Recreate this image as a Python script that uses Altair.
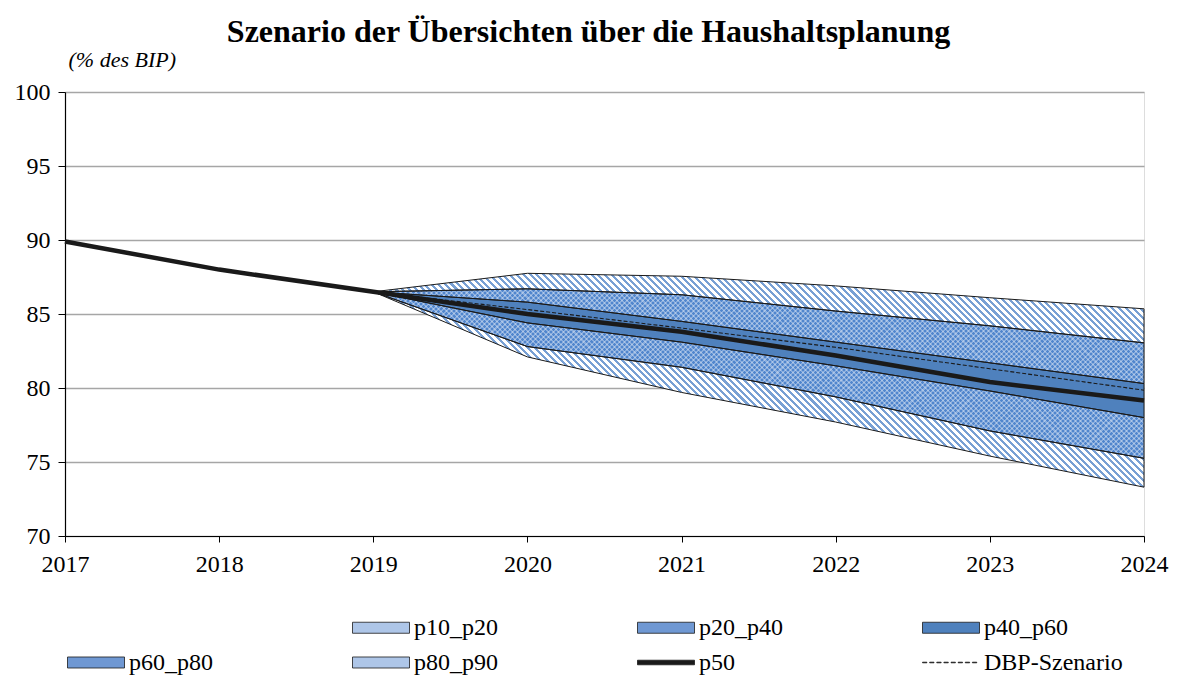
import math
import altair as alt
import pandas as pd

# ---------------- data ----------------
years = [2017, 2018, 2019, 2020, 2021, 2022, 2023, 2024]
p50 = [89.9, 88.0, 86.5, 85.0, 83.8, 82.2, 80.4, 79.15]
dbp = [None, None, 86.5, 85.3, 84.05, 82.75, 81.3, 79.85]

band_years = [2019, 2020, 2021, 2022, 2023, 2024]
p10 = [86.5, 82.1, 79.7, 77.7, 75.4, 73.3]
p20 = [86.5, 82.8, 81.4, 79.4, 77.1, 75.25]
p40 = [86.5, 84.4, 83.1, 81.5, 79.8, 78.0]
p60 = [86.5, 85.8, 84.5, 83.1, 81.7, 80.3]
p80 = [86.5, 86.7, 86.3, 85.2, 84.2, 83.05]
p90 = [86.5, 87.75, 87.55, 86.9, 86.1, 85.35]

bands = ["p10_p20", "p20_p40", "p40_p60", "p60_p80", "p80_p90"]
band_lo = [p10, p20, p40, p60, p80]
band_hi = [p20, p40, p60, p80, p90]

legend_names = [" ", "p10_p20", "p20_p40", "p40_p60", "p60_p80", "p80_p90", "p50", "DBP-Szenario"]
x_ticks = years
y_ticks = [70, 75, 80, 85, 90, 95, 100]

# ---------------- style ----------------
FONT = "Liberation Serif"
W, H = 1079, 444
X_DOM = [2017, 2024]
Y_DOM = [70, 100]
HATCH_BLUE = "#78a0d4"
CROSS_BASE = "#5186cd"
SOLID_BLUE = "#4f81bd"
WHITE_A = "rgba(255,255,255,0.32)"
CLEAR = "rgba(255,255,255,0)"


def stripes(lo, hi, period, c_on, c_off, frac, down=True):
    """Linear gradient that looks like diagonal hatching over a band's bbox."""
    pxw = W * (band_years[-1] - band_years[0]) / (X_DOM[1] - X_DOM[0])
    pxh = (max(hi) - min(lo)) * H / (Y_DOM[1] - Y_DOM[0])
    r = pxh / pxw
    t = (1 + r) / (1 + r * r)
    n = int(round((pxw + pxh) / (math.sqrt(2) * period)))
    stops = []
    for k in range(n):
        a, b, c = k / n, (k + frac) / n, (k + 1) / n
        stops += [
            alt.GradientStop(offset=a, color=c_on),
            alt.GradientStop(offset=b, color=c_on),
            alt.GradientStop(offset=b, color=c_off),
            alt.GradientStop(offset=min(c, 1.0), color=c_off),
        ]
    if down:   # stripes run "\"
        return alt.LinearGradient(gradient="linear", stops=stops,
                                  x1=0, y1=1, x2=t, y2=1 - t * r)
    return alt.LinearGradient(gradient="linear", stops=stops,   # stripes run "/"
                              x1=0, y1=0, x2=t, y2=t * r)


rows = []
for name, lo, hi in zip(bands, band_lo, band_hi):
    for yr, a, b in zip(band_years, lo, hi):
        rows.append({"band": name, "year": yr, "lo": a, "hi": b})
df_bands = pd.DataFrame(rows)
df_lines = pd.DataFrame({"year": years, "p50": p50, "dbp": dbp})
df_leg = pd.DataFrame({"series": legend_names})

x_scale = alt.Scale(domain=X_DOM, nice=False, zero=False)
x_axis = alt.Axis(values=x_ticks, format="d", title=None, grid=False,
                  domainColor="black", domainWidth=1.2, tickColor="black",
                  tickSize=6, labelPadding=10, labelFont=FONT,
                  labelFontSize=24, labelColor="black", labelFlush=False)
y_scale = alt.Scale(domain=Y_DOM, nice=False, zero=False)
y_axis = alt.Axis(values=y_ticks, title="(% des BIP)", titleAngle=0, titleX=3, titleY=-26,
                  titleAlign="left", titleBaseline="alphabetic", titleFont=FONT,
                  titleFontStyle="italic", titleFontWeight="normal", titleFontSize=22,
                  titleColor="black", gridColor="#a6a6a6", gridWidth=1.5,
                  domainColor="black", domainWidth=1.2, tickColor="black", tickSize=7,
                  labelPadding=8, labelFont=FONT, labelFontSize=24, labelColor="black")


def band_layer(name, **mark):
    return (alt.Chart(df_bands).transform_filter(alt.datum.band == name)
            .mark_area(**mark)
            .encode(x=alt.X("year:Q", scale=x_scale, axis=x_axis),
                    y=alt.Y("lo:Q", scale=y_scale, axis=y_axis), y2="hi:Q"))


layers = []
# hatched outer bands
for name, lo, hi in [("p10_p20", p10, p20), ("p80_p90", p80, p90)]:
    layers.append(band_layer(name, fill=stripes(lo, hi, 4.8, HATCH_BLUE, "white", 0.45)))
# cross-hatched bands: base colour + two sets of light stripes
for name, lo, hi in [("p20_p40", p20, p40), ("p60_p80", p60, p80)]:
    layers.append(band_layer(name, fill=CROSS_BASE))
    layers.append(band_layer(name, fill=stripes(lo, hi, 3.6, WHITE_A, CLEAR, 0.4, True)))
    layers.append(band_layer(name, fill=stripes(lo, hi, 3.6, WHITE_A, CLEAR, 0.4, False)))
# solid middle band
layers.append(band_layer("p40_p60", fill=SOLID_BLUE))
# outlines of all bands
for name in bands:
    layers.append(band_layer(name, fill="white", fillOpacity=0, stroke="#1a1a1a", strokeWidth=1))

dbp_line = alt.Chart(df_lines).mark_line(color="#1a1a1a", strokeWidth=1.1, strokeDash=[4, 2]).encode(
    x=alt.X("year:Q", scale=x_scale, axis=x_axis),
    y=alt.Y("dbp:Q", scale=y_scale, axis=y_axis))
p50_line = alt.Chart(df_lines).mark_line(color="#1a1a1a", strokeWidth=4.5).encode(
    x=alt.X("year:Q", scale=x_scale, axis=x_axis),
    y=alt.Y("p50:Q", scale=y_scale, axis=y_axis))

# legend symbols: custom paths; symbol size 30px (unit = 15px), drawn 57px wide
U = 15.0
X0, X1 = -1.0, (57 - U) / U


def bar(half_h_px):
    h = half_h_px / U
    return "M{a:.3f},{n:.3f}H{b:.3f}V{p:.3f}H{a:.3f}Z".format(a=X0, b=X1, n=-h, p=h)


rect = bar(5.5)
thick = bar(2.3)
dash_period = (X1 - X0) / 8
dashes = "".join(
    "M{a:.3f},-0.02H{b:.3f}V0.02H{a:.3f}Z".format(a=X0 + k * dash_period,
                                                  b=X0 + k * dash_period + 0.62 * dash_period)
    for k in range(8))
shape_range = ["M0,0", rect, rect, rect, rect, rect, thick, dashes]
fill_range = ["transparent", "#aec6e8", "#6f98d3", SOLID_BLUE, "#6f98d3", "#aec6e8", "#1a1a1a", "#1a1a1a"]
stroke_range = ["transparent"] + ["#1a1a1a"] * 7

leg = alt.Legend(title=None, orient="none", legendX=2, legendY=520, columns=4,
                 direction="horizontal",
                 gridAlign="all", columnPadding=82, rowPadding=7, symbolSize=U * U * 4,
                 symbolStrokeWidth=0.8, symbolOpacity=1,
                 labelFont=FONT, labelFontSize=24, labelColor="black", labelOffset=31,
                 labelLimit=0)

legend_layer = alt.Chart(df_leg).mark_point(filled=True, opacity=0, strokeWidth=0.8).encode(
    fill=alt.Fill("series:N", scale=alt.Scale(domain=legend_names, range=fill_range), legend=leg),
    stroke=alt.Stroke("series:N", scale=alt.Scale(domain=legend_names, range=stroke_range), legend=leg),
    shape=alt.Shape("series:N", scale=alt.Scale(domain=legend_names, range=shape_range), legend=leg),
)

chart = alt.layer(*layers, dbp_line, p50_line, legend_layer).properties(
    width=W, height=H,
    title=alt.TitleParams("Szenario der Übersichten über die Haushaltsplanung",
                          font=FONT, fontSize=32, fontWeight="bold", color="black",
                          anchor="middle", dx=-16, dy=5, offset=4),
    autosize=alt.AutoSizeParams(type="none"),
    padding={"left": 57, "top": 84, "right": 27, "bottom": 140},
).configure_view(stroke="#a0a0a0", strokeWidth=1.5).configure(background="white")

chart.save("out.html", embed_options={"renderer": "svg", "actions": False})
